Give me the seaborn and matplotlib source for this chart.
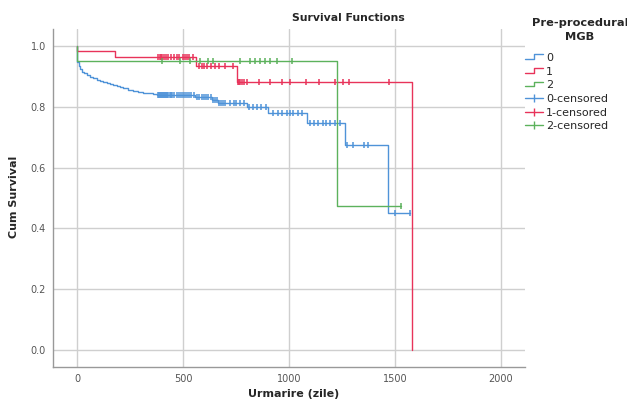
import numpy as np
import pandas as pd
import matplotlib
matplotlib.use("Agg")
import matplotlib.pyplot as plt
import seaborn as sns
from matplotlib.lines import Line2D
from matplotlib.legend_handler import HandlerBase

# Kaplan-Meier step knots (time in days, cumulative survival) per group
times_0 = [0, 1, 8, 14, 25, 35, 45, 60, 77, 95, 110, 124, 140, 155, 171, 190, 205,
           219, 240, 266, 290, 313, 340, 360, 376, 557, 635, 665, 800, 901, 1083,
           1264, 1469, 1571]
surv_0 = [1.0, 0.948, 0.935, 0.922, 0.915, 0.909, 0.904, 0.898, 0.893, 0.888, 0.885,
          0.882, 0.878, 0.874, 0.871, 0.867, 0.863, 0.86, 0.856, 0.852, 0.849, 0.846,
          0.844, 0.842, 0.838, 0.833, 0.822, 0.811, 0.80, 0.78, 0.745, 0.674, 0.45,
          0.45]
times_1 = [0, 1, 180, 561, 755, 1579]
surv_1 = [1.0, 0.984, 0.963, 0.933, 0.882, 0.0]
times_2 = [0, 1, 1225, 1528]
surv_2 = [1.0, 0.95, 0.474, 0.474]

# censored observation times per group
cens_0 = [380, 385, 390, 395, 400, 405, 410, 415, 420, 425, 430, 440, 445, 450, 460,
          470, 480, 490, 500, 510, 520, 530, 540, 550, 565, 575, 590, 600, 610, 620,
          630, 640, 650, 660, 670, 680, 690, 700, 720, 740, 750, 770, 790, 812, 830,
          850, 870, 890, 926, 950, 967, 990, 1005, 1020, 1042, 1061, 1099, 1118, 1138,
          1158, 1174, 1193, 1217, 1240, 1272, 1300, 1355, 1374, 1500, 1571]
cens_1 = [380, 390, 395, 400, 410, 420, 430, 445, 460, 470, 480, 500, 510, 520, 530,
          545, 575, 590, 600, 615, 630, 650, 670, 700, 735, 760, 765, 770, 780, 790,
          800, 860, 910, 966, 1005, 1080, 1142, 1217, 1255, 1283, 1472]
cens_2 = [399, 486, 533, 580, 618, 642, 769, 816, 840, 863, 887, 910, 942, 1013, 1528]

groups = ["0", "1", "2"]
colors = {"0": "#4f93d8", "1": "#e8335a", "2": "#5cb25c"}


def step_value(times, surv, t):
    idx = np.searchsorted(times, t, side="right") - 1
    return np.asarray(surv)[idx]


class StepHandler(HandlerBase):
    def create_artists(self, legend, orig_handle, xdescent, ydescent, width, height,
                       fontsize, trans):
        x0 = -xdescent
        y0 = -ydescent
        xs = [x0, x0 + 0.5 * width, x0 + 0.5 * width, x0 + width]
        ys = [y0 + 0.25 * height, y0 + 0.25 * height, y0 + 0.85 * height, y0 + 0.85 * height]
        ln = Line2D(xs, ys, color=orig_handle.get_color(), lw=1)
        ln.set_transform(trans)
        return [ln]


sns.set_theme(style="whitegrid")
plt.rcParams["font.family"] = ["DejaVu Sans"]

fig = plt.figure(figsize=(6.27, 4.07), dpi=100)
ax = fig.add_axes([53 / 627, 1 - 367 / 407, (525 - 53) / 627, (367 - 29) / 407])

curves = {"0": (times_0, surv_0, cens_0), "1": (times_1, surv_1, cens_1),
          "2": (times_2, surv_2, cens_2)}

for g in groups:
    t, s, c = curves[g]
    df = pd.DataFrame({"time": t, "surv": s})
    sns.lineplot(data=df, x="time", y="surv", ax=ax, color=colors[g], lw=1,
                 drawstyle="steps-post", estimator=None, sort=False)
    cdf = pd.DataFrame({"time": c, "surv": step_value(t, s, c)})
    sns.scatterplot(data=cdf, x="time", y="surv", ax=ax, color=colors[g], marker="|",
                    s=13, linewidth=1.1)

ax.set_xlim(-113, 2113)
ax.set_ylim(-0.055, 1.055)
ax.set_xticks([0, 500, 1000, 1500, 2000])
ax.set_yticks([0.0, 0.2, 0.4, 0.6, 0.8, 1.0])
ax.set_yticklabels(["0.0", "0.2", "0.4", "0.6", "0.8", "1.0"])
ax.grid(True, color="#cfcfcf", lw=1)
ax.tick_params(length=0, labelsize=7, colors="#555555", pad=5)
for side in ["top", "right"]:
    ax.spines[side].set_visible(False)
for side in ["left", "bottom"]:
    ax.spines[side].set_color("#999999")
    ax.spines[side].set_linewidth(1)

ax.set_xlabel("")
ax.set_ylabel("")
fig.text(294 / 627, 1 - 394 / 407, "Urmarire (zile)", ha="center", va="center",
         fontsize=8, fontweight="bold")
fig.text(14 / 627, 1 - 197 / 407, "Cum Survival", ha="center", va="center",
         rotation=90, fontsize=8, fontweight="bold")
fig.text(348 / 627, 1 - 18 / 407, "Survival Functions", ha="center", va="center",
         fontsize=7.8, fontweight="bold")
fig.text(580 / 627, 1 - 30 / 407, "Pre-procedural\nMGB", ha="center", va="center",
         fontsize=8.2, fontweight="bold", multialignment="center", linespacing=1.4)

handles = [Line2D([0], [0], color=colors[g], lw=1) for g in groups]
handles += [Line2D([0], [0], color=colors[g], lw=1, marker="|", markersize=6,
                   markeredgewidth=1) for g in groups]
labels = groups + [f"{g}-censored" for g in groups]
leg = fig.legend(handles, labels, loc="upper left", bbox_to_anchor=(525 / 627, 1 - 53 / 407),
                 frameon=False, fontsize=8, handlelength=1.6, handletextpad=0.3,
                 labelspacing=0.33, borderaxespad=0, borderpad=0,
                 handler_map={h: StepHandler() for h in handles[:3]})

fig.savefig("out.png", dpi=100)
